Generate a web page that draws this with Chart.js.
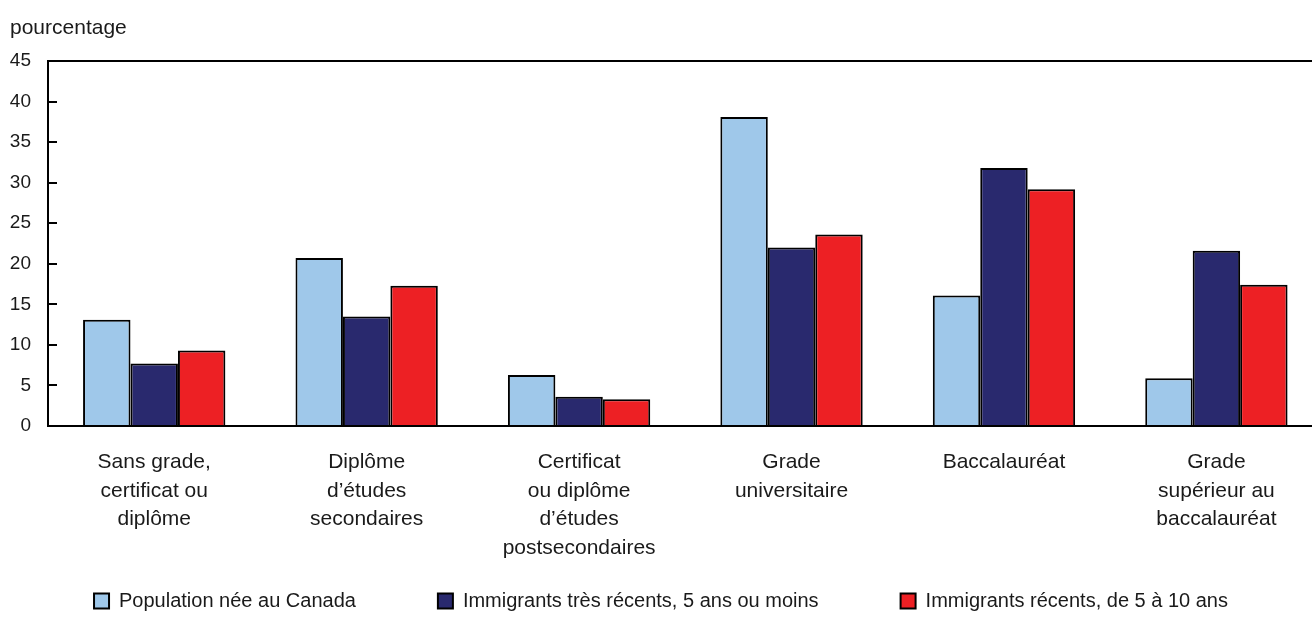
<!DOCTYPE html>
<html lang="fr">
<head>
  <meta charset="UTF-8" />
  <title>Plus haut niveau de scolarité</title>
  <script src="https://cdn.jsdelivr.net/npm/chart.js"></script>
  <style>
    html, body {
      margin: 0;
      padding: 0;
      background: #fff;
    }
    #chart {
      display: block;
    }
  </style>
</head>
<body>
  <canvas id="chart" width="1312" height="621"></canvas>

  <script>
    // categories (multi-line labels)
    const categories = [
      ["Sans grade,", "certificat ou", "diplôme"],
      ["Diplôme", "d’études", "secondaires"],
      ["Certificat", "ou diplôme", "d’études", "postsecondaires"],
      ["Grade", "universitaire"],
      ["Baccalauréat"],
      ["Grade", "supérieur au", "baccalauréat"]
    ];

    const seriesNames = [
      "Population née au Canada",
      "Immigrants très récents, 5 ans ou moins",
      "Immigrants récents, de 5 à 10 ans"
    ];

    // pourcentage
    const neAuCanada  = [13.1, 20.7, 6.3, 38.1, 16.1, 5.9];
    const tresRecents = [7.7, 13.5, 3.6, 22.0, 31.8, 21.6];
    const recents     = [9.3, 17.3, 3.3, 23.6, 29.2, 17.4];

    const yTicks = [0, 5, 10, 15, 20, 25, 30, 35, 40, 45];

    const colors = ["#9fc8ea", "#29296e", "#ed2024"];
    const textColor = "#1a1a1a";

    Chart.defaults.font.family = "'Liberation Sans', Arial, sans-serif";
    Chart.defaults.color = textColor;

    function toPoints(values) {
      return values.map((v, i) => ({ x: i, y: v }));
    }

    const datasets = [neAuCanada, tresRecents, recents].map((values, i) => ({
      label: seriesNames[i],
      data: toPoints(values),
      backgroundColor: colors[i],
      borderColor: "#000",
      borderWidth: 2,
      categoryPercentage: 0.67,
      barPercentage: 1.0
    }));

    // let the multi-line category labels run below the (short) x axis box
    const unclipLabels = {
      id: "unclipLabels",
      afterLayout(chart) {
        chart.scales.x._computeLabelArea = () => undefined;
      }
    };

    new Chart(document.getElementById("chart").getContext("2d"), {
      type: "bar",
      data: { datasets: datasets },
      plugins: [unclipLabels],
      options: {
        responsive: false,
        animation: false,
        devicePixelRatio: 1,
        layout: { padding: { left: 10, right: 0, top: 0, bottom: 0 } },
        plugins: {
          title: {
            display: true,
            text: "pourcentage",
            align: "start",
            color: textColor,
            font: { size: 21, weight: "normal" },
            padding: { top: 16, bottom: 19.8 }
          },
          legend: {
            position: "bottom",
            labels: {
              boxWidth: 15,
              boxHeight: 15,
              padding: 82,
              color: textColor,
              font: { size: 20 }
            }
          },
          tooltip: { enabled: false }
        },
        scales: {
          x: {
            type: "linear",
            offset: false,
            min: -0.5,
            max: 5.45,
            afterBuildTicks: scale => {
              scale.ticks = categories.map((c, i) => ({ value: i }));
            },
            afterFit: scale => { scale.height = 83; },
            ticks: {
              callback: value => categories[value],
              autoSkip: false,
              maxRotation: 0,
              padding: 22,
              color: textColor,
              font: { size: 21, lineHeight: 1.36 }
            },
            grid: { display: false, drawTicks: false },
            border: { color: "#000", width: 2 }
          },
          y: {
            min: 0,
            max: 45,
            afterBuildTicks: scale => {
              scale.ticks = yTicks.map(v => ({ value: v }));
            },
            afterFit: scale => { scale.width = 38; },
            ticks: {
              padding: 26,
              color: textColor,
              font: { size: 19 }
            },
            grid: {
              color: ctx => (ctx.tick && ctx.tick.value === 45 ? "#000" : "rgba(0,0,0,0)"),
              lineWidth: 2,
              tickLength: -9,
              tickColor: "#000",
              tickWidth: 2
            },
            border: { color: "#000", width: 2 }
          }
        }
      }
    });
  </script>
</body>
</html>
